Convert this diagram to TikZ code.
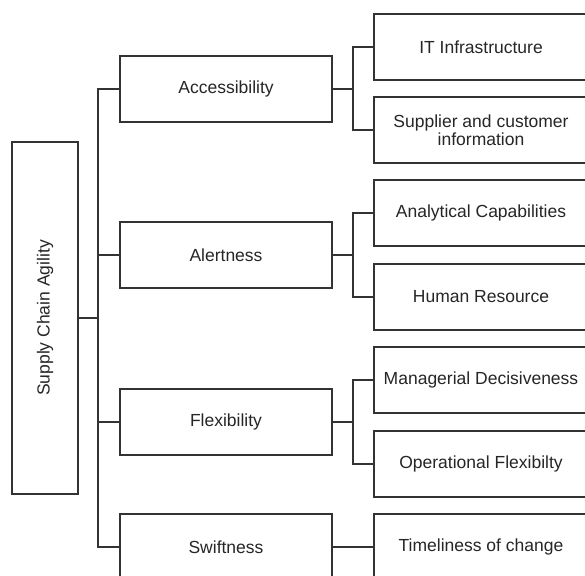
\documentclass[tikz,border=0pt]{standalone}
\usepackage{fontspec}
\setmainfont{Liberation Sans}
\definecolor{ink}{HTML}{333333}
\definecolor{txt}{HTML}{262626}
\begin{document}
\begin{tikzpicture}[x=1pt,y=-1pt,
  box/.style={draw=ink,line width=2pt,inner sep=0pt,align=center,text=txt,
    font=\fontsize{17.5}{18.5}\selectfont},
  midbox/.style={box,minimum width=212pt,minimum height=66pt},
  leafbox/.style={box,minimum width=214pt,minimum height=66pt},
  link/.style={draw=ink,line width=2pt}]
\clip (0,0) rectangle (585,575);
\fill[white] (0,0) rectangle (585,575);
\node[box,minimum width=66pt,minimum height=352pt] (root) at (45,318) {};
\node[txt,rotate=90,font=\fontsize{17.5}{18.5}\selectfont] (roottxt) at (root.center) {Supply Chain Agility};
\node[midbox] (acc) at (226,89) {Accessibility};
\node[midbox] (ale) at (226,255) {Alertness};
\node[midbox] (fle) at (226,422) {Flexibility};
\node[midbox] (swi) at (226,547) {Swiftness};
\node[leafbox] (it) at (481,47) {IT Infrastructure};
\node[leafbox] (sup) at (481,130) {Supplier and customer\\information};
\node[leafbox] (ana) at (481,213) {Analytical Capabilities};
\node[leafbox] (hum) at (481,297) {Human Resource};
\node[leafbox] (man) at (481,380) {Managerial Decisiveness};
\node[leafbox] (ope) at (481,464) {Operational Flexibilty};
\node[leafbox] (tim) at (481,547) {Timeliness of change};
% trunk
\coordinate (j0) at (98,318);
\draw[link] (root.east) -- (j0);
\draw[link] (acc.west) -| (j0) |- (swi.west);
\draw[link] (ale.west) -- (ale.west -| j0);
\draw[link] (fle.west) -- (fle.west -| j0);
% second level
\coordinate (ja) at (353,89);
\coordinate (jb) at (353,255);
\coordinate (jc) at (353,422);
\draw[link] (acc.east) -- (ja);
\draw[link] (it.west) -| (ja) |- (sup.west);
\draw[link] (ale.east) -- (jb);
\draw[link] (ana.west) -| (jb) |- (hum.west);
\draw[link] (fle.east) -- (jc);
\draw[link] (man.west) -| (jc) |- (ope.west);
\draw[link] (swi.east) -- (tim.west);
\end{tikzpicture}
\end{document}
